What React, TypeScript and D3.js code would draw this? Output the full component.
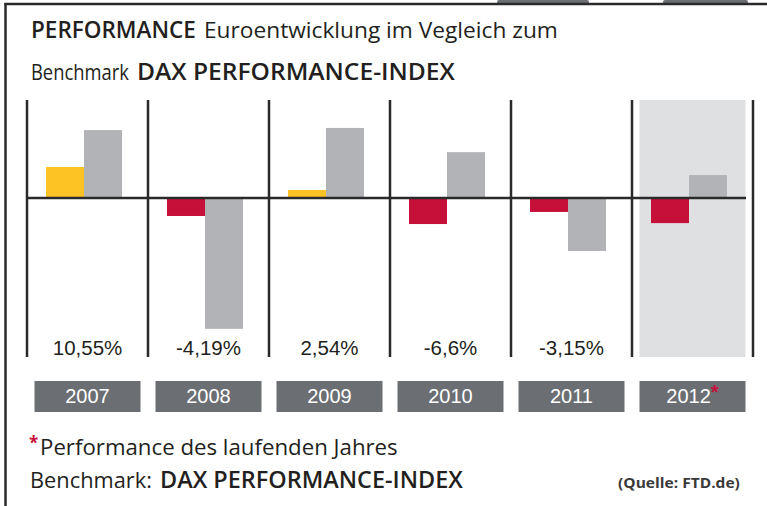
import React, { useLayoutEffect, useRef } from "react";
import * as d3 from "d3";

const years = ["2007", "2008", "2009", "2010", "2011", "2012"];
const fundValues = [10.0, -5.8, 2.6, -8.4, -4.5, -8.1];
const daxValues = [21.9, -42.2, 22.6, 14.8, -17.1, 7.4];
const fundLabels = ["10,55%", "-4,19%", "2,54%", "-6,6%", "-3,15%", ""];
const currentYear = "2012";

const W = 767;
const H = 506;
const YELLOW = "#fdc224";
const RED = "#c61039";
const GRAY = "#b1b3b6";
const DARK = "#2a2a2a";
const BOX = "#6b6e72";
const BG = "#dfe0e2";
const TEXT = "#231f20";
const CF = "'Open Sans', 'DejaVu Sans', sans-serif";
const NF = "'Liberation Sans', Arial, sans-serif";

function CondText({ x, y, width, size = 22.5, weight = 400, fill = TEXT, children }: any) {
  const ref = useRef<SVGTextElement>(null);
  useLayoutEffect(() => {
    const el = ref.current;
    if (!el) return;
    const natural = el.getComputedTextLength() || width;
    d3.select(el).attr("transform", `translate(${x},${y}) scale(${width / natural},1)`);
  });
  return (
    <text ref={ref} x={0} y={0} transform={`translate(${x},${y})`} fontFamily={CF} fontSize={size} fontWeight={weight} fill={fill}>
      {children}
    </text>
  );
}

export default function App() {
  const x = d3.scaleBand<string>().domain(years).range([27, 753]).paddingInner(0).paddingOuter(0);
  const inner = d3.scaleBand<string>().domain(["fund", "dax"]).range([19, 95]).padding(0);
  const y = d3.scaleLinear().domain([-50, 35]).range([198 + 50 * 3.1, 198 - 35 * 3.1]);
  const y0 = y(0);
  const step = x.step();
  const boxW = 106;
  const colTop = 100;
  const colBottom = 357;

  const bar = (v: number) => ({ y: Math.min(y(v), y0), h: Math.abs(y(v) - y0) });

  return (
    <svg width={W} height={H} style={{ position: "absolute", left: 0, top: 0, background: "#fff" }}>
      {/* frame */}
      <rect x={497} y={0} width={92} height={4} rx={2} fill={BOX} />
      <rect x={663} y={0} width={85} height={4} rx={2} fill={BOX} />
      <line x1={4.5} x2={W} y1={4} y2={4} stroke={DARK} strokeWidth={2.5} />
      <line x1={5.5} x2={5.5} y1={3} y2={H} stroke={DARK} strokeWidth={2.5} />

      {/* title */}
      <CondText x={31} y={37.5} width={165} weight={600}>PERFORMANCE</CondText>
      <CondText x={204} y={37.5} width={354}>Euroentwicklung im Vegleich zum</CondText>
      <CondText x={31} y={80} width={98}>Benchmark</CondText>
      <CondText x={137} y={80} width={318} weight={600}>DAX PERFORMANCE-INDEX</CondText>

      {/* current year background */}
      <rect x={(x(currentYear) as number) + (step - boxW) / 2} y={colTop} width={boxW} height={colBottom - colTop} fill={BG} />

      {/* bars */}
      {years.map((yr, i) => {
        const x0 = x(yr) as number;
        const f = bar(fundValues[i]);
        const d = bar(daxValues[i]);
        return (
          <g key={yr}>
            <rect x={x0 + (inner("fund") as number)} y={f.y} width={inner.bandwidth()} height={f.h} fill={fundValues[i] >= 0 ? YELLOW : RED} />
            <rect x={x0 + (inner("dax") as number)} y={d.y} width={inner.bandwidth()} height={d.h} fill={GRAY} />
          </g>
        );
      })}

      {/* zero line */}
      <line x1={27} x2={746} y1={y0} y2={y0} stroke={DARK} strokeWidth={2.5} />

      {/* column dividers */}
      {[...years.map((yr) => x(yr) as number), 753].map((xx, i) => (
        <line key={i} x1={xx} x2={xx} y1={colTop} y2={colBottom} stroke={DARK} strokeWidth={2.5} />
      ))}

      {/* value labels */}
      {years.map((yr, i) => (
        <text key={yr} x={(x(yr) as number) + step / 2} y={355} textAnchor="middle" fontFamily={NF} fontSize={20.5} fill={TEXT}>
          {fundLabels[i]}
        </text>
      ))}

      {/* year boxes */}
      {years.map((yr) => {
        const cx = (x(yr) as number) + step / 2;
        return (
          <g key={yr}>
            <rect x={cx - boxW / 2} y={381} width={boxW} height={31} fill={BOX} />
            <text x={cx} y={403} textAnchor="middle" fontFamily={NF} fontSize={20} fill="#fff">
              {yr}
              {yr === currentYear ? <tspan fill={RED} fontSize={20} fontWeight={700} dy={-4}>*</tspan> : null}
            </text>
          </g>
        );
      })}

      {/* footer */}
      <text x={29} y={449} fontFamily={CF} fontSize={17} fontWeight={700} fill={RED}>*</text>
      <CondText x={40} y={455} width={358}>Performance des laufenden Jahres</CondText>
      <CondText x={30} y={488} width={122}>Benchmark:</CondText>
      <CondText x={160} y={488} width={303} weight={600}>DAX PERFORMANCE-INDEX</CondText>
      <CondText x={618} y={488} width={122} size={14} weight={700} fill="#3a3a3a">(Quelle: FTD.de)</CondText>
    </svg>
  );
}
